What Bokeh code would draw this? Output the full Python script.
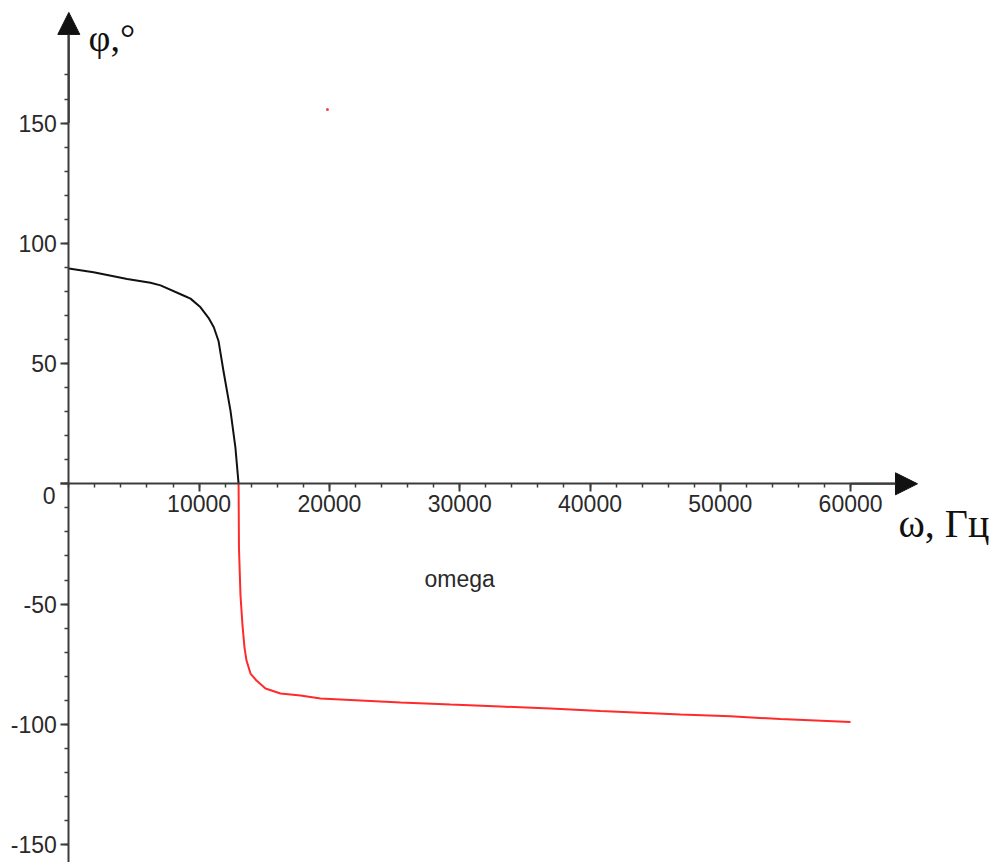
from bokeh.plotting import figure
from bokeh.models import Range1d, FixedTicker, Arrow, NormalHead
from bokeh.core.properties import value
from bokeh.embed import file_html
from bokeh.resources import INLINE

# Data
omega_black = [0, 1900, 4480, 6270, 7040, 8800, 9340, 10110, 10720, 11128,
               11490, 11870, 12410, 12790, 13030]
phi_black = [89.5, 88.0, 85.2, 83.6, 82.5, 78.3, 77.0, 73.4, 69.0, 65.1,
             59.4, 46.9, 30.3, 14.9, 0.0]
omega_red = [13030, 13060, 13177, 13331, 13484, 13638, 13945, 14405, 15096,
             16247, 17782, 19317, 20852, 23154, 25457, 29294, 33131, 36969,
             40806, 46946, 50783, 54620, 59992]
phi_red = [0.0, -26.9, -46.4, -58.9, -68.1, -73.5, -78.9, -81.8, -85.1,
           -87.2, -88.0, -89.3, -89.7, -90.3, -90.9, -91.8, -92.6, -93.4,
           -94.5, -95.9, -96.7, -97.8, -99.0]
stray_x = [19850]
stray_y = [155.6]

x_ticks = [10000, 20000, 30000, 40000, 50000, 60000]
x_minor = list(range(0, 60001, 2000))
y_ticks = [-150, -100, -50, 0, 50, 100, 150]
y_minor = list(range(-160, 171, 10))

LABEL_FONT = "Liberation Sans"
TITLE_FONT = "Liberation Serif"
AXIS_COLOR = "#3c3c3c"
TEXT_COLOR = "#2a2a2a"

p = figure(width=1000, height=862, output_backend="svg", toolbar_location=None,
           x_range=Range1d(-5242, 71504), y_range=Range1d(-157.46, 200.96),
           min_border=0, min_border_left=0, min_border_right=0,
           min_border_top=0, min_border_bottom=0)
p.outline_line_color = None
p.xgrid.visible = False
p.ygrid.visible = False
p.background_fill_color = "white"
p.border_fill_color = "white"

# axes through the origin
xa = p.xaxis[0]
ya = p.yaxis[0]
xa.fixed_location = 0
ya.fixed_location = 0
xa.ticker = FixedTicker(ticks=x_ticks, minor_ticks=x_minor)
ya.ticker = FixedTicker(ticks=y_ticks, minor_ticks=y_minor)
xa.major_label_overrides = {t: str(t) for t in x_ticks}
ya.major_label_overrides = {t: ("" if t == 0 else str(t)) for t in y_ticks}
xa.bounds = (-600, 64000)
ya.bounds = (-162, 190)
for ax in (xa, ya):
    ax.axis_line_color = AXIS_COLOR
    ax.axis_line_width = 2
    ax.major_tick_line_color = AXIS_COLOR
    ax.major_tick_line_width = 2
    ax.minor_tick_line_color = AXIS_COLOR
    ax.minor_tick_line_width = 1.5
    ax.major_tick_in = 0
    ax.major_tick_out = 8
    ax.minor_tick_in = 0
    ax.minor_tick_out = 4
    ax.major_label_text_font = LABEL_FONT
    ax.major_label_text_font_size = "23px"
    ax.major_label_text_color = TEXT_COLOR
xa.major_label_standoff = 3
ya.major_label_standoff = 4

# arrow heads
p.add_layout(Arrow(end=NormalHead(size=22, fill_color="#111111", line_color="#111111"),
                   x_start=0, y_start=150, x_end=0, y_end=196,
                   line_color=AXIS_COLOR, line_width=2))
p.add_layout(Arrow(end=NormalHead(size=22, fill_color="#111111", line_color="#111111"),
                   x_start=60000, y_start=0, x_end=65134, y_end=0,
                   line_color=AXIS_COLOR, line_width=2))

# curves
p.line(omega_black, phi_black, line_color="#111111", line_width=2)
p.line(omega_red, phi_red, line_color="#ff2a2a", line_width=2)
p.scatter(stray_x, stray_y, size=3, color="#ff4040", line_color=None)

# texts
p.text(x=[-1021], y=[-4.9], text=["0"], text_font=value(LABEL_FONT),
       text_font_size="23px", text_color=TEXT_COLOR, text_align="right",
       text_baseline="middle")
p.text(x=[30000], y=[-39.4], text=["omega"], text_font=value(LABEL_FONT),
       text_font_size="23px", text_color=TEXT_COLOR, text_align="center",
       text_baseline="middle")
p.text(x=[1512], y=[185.5], text=["φ,°"], text_font=value(TITLE_FONT),
       text_font_size="38px", text_color="#111111", text_align="left",
       text_baseline="alphabetic")
p.text(x=[63676], y=[-16.5], text=["ω, Гц"], text_font=value(TITLE_FONT),
       text_font_size="40px", text_color="#111111", text_align="left",
       text_baseline="alphabetic")

open("out.html", "w").write(file_html(p, INLINE))
